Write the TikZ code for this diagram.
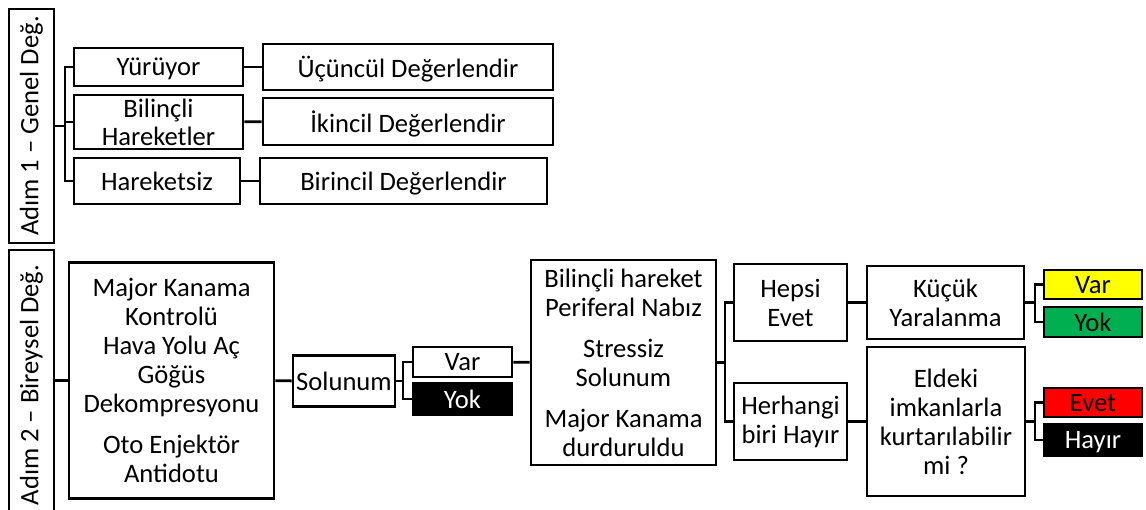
\documentclass[tikz,border=0pt]{standalone}
\usepackage{fontspec}
\setmainfont{Carlito}
\definecolor{kYellow}{HTML}{FFFF00}
\definecolor{kGreen}{HTML}{00B050}
\definecolor{kRed}{HTML}{FF0000}
\begin{document}
\begin{tikzpicture}[x=0.5pt, y=-0.5pt,
        font=\fontsize{13.3}{14.5}\selectfont,
        box/.style={draw, line width=1.4pt, inner sep=0pt, align=center},
        onebox/.style={box, text depth=0pt},
        link/.style={line width=1.4pt}]
        \useasboundingbox (0,0) rectangle (1146,509);

        % Adim 1
        \node[box, rotate=90, minimum width=117pt, minimum height=22.5pt] (adim1) at (31.5,126) {Adım 1 – Genel Değ.};
        \node[onebox, minimum width=84.5pt, minimum height=19pt] (yur) at (158.5,67) {Yürüyor};
        \node[box, minimum width=84.5pt, minimum height=27pt] (bilh) at (158.5,122) {Bilinçli\\[-0.5pt]Hareketler};
        \node[onebox, minimum width=83pt, minimum height=23pt] (hrk) at (157,181) {Hareketsiz};
        \node[onebox, minimum width=145pt, minimum height=23pt] (ucu) at (408,67) {Üçüncül Değerlendir};
        \node[onebox, minimum width=145pt, minimum height=23.5pt] (iki) at (408,121.5) {İkincil Değerlendir};
        \node[onebox, minimum width=143.5pt, minimum height=23pt] (bir) at (403.5,181) {Birincil Değerlendir};
        \coordinate (br1) at (65,126);

        \draw[link] (adim1.south) -- (br1);
        \draw[link] (yur.west) -| (br1) |- (hrk.west);
        \draw[link] (bilh.west) -- (bilh.west -| br1);
        \draw[link] (yur) -- (ucu);
        \draw[link] (bilh) -- (iki);
        \draw[link] (hrk) -- (bir);

        % Adim 2
        \node[box, rotate=90, minimum width=135pt, minimum height=22.5pt] (adim2) at (31.5,385) {Adım 2 – Bireysel Değ.};
        \node[box, minimum width=102.5pt, minimum height=118pt] (major) at (171.5,380.5) {Major Kanama\\Kontrolü\\Hava Yolu Aç\\Göğüs\\Dekompresyonu\\[6pt]Oto Enjektör\\Antidotu};
        \node[onebox, minimum width=51pt, minimum height=25.5pt] (sol) at (344,381) {Solunum};
        \node[onebox, minimum width=49.5pt, minimum height=15pt] (var1) at (462.5,362) {Var};
        \node[onebox, fill=black, text=white, minimum width=49.5pt, minimum height=16pt] (yok1) at (462.5,399) {Yok};
        \node[box, minimum width=92.5pt, minimum height=102.5pt] (bil2) at (623.5,362.5) {Bilinçli hareket\\Periferal Nabız\\[6pt]Stressiz\\Solunum\\[6pt]Major Kanama\\durduruldu};
        \node[box, minimum width=56.5pt, minimum height=38.5pt] (hep) at (790.5,302.5) {Hepsi\\Evet};
        \node[box, minimum width=56.5pt, minimum height=38.5pt] (her) at (790.5,421.5) {Herhangi\\biri Hayır};
        \node[box, minimum width=78.5pt, minimum height=36.5pt] (kuc) at (945.5,302.5) {Küçük\\Yaralanma};
        \node[box, minimum width=79pt, minimum height=74.5pt] (eld) at (946,421.5) {Eldeki\\imkanlarla\\kurtarılabilir\\mi ?};
        \node[onebox, fill=kYellow, minimum width=49pt, minimum height=14.5pt] (var2) at (1093,284.5) {Var};
        \node[onebox, fill=kGreen, minimum width=49pt, minimum height=15pt] (yok2) at (1093,322) {Yok};
        \node[onebox, fill=kRed, minimum width=49pt, minimum height=14.5pt] (evet) at (1093,402.5) {Evet};
        \node[onebox, fill=black, text=white, minimum width=49pt, minimum height=16pt] (hayir) at (1093,440) {Hayır};
        \coordinate (br2) at (403,381);
        \coordinate (br3) at (725,362.5);
        \coordinate (br4) at (1035,302.5);
        \coordinate (br5) at (1035,421.5);

        \draw[link] (major.west -| adim2.south) -- (major.west);
        \draw[link] (major) -- (sol);
        \draw[link] (sol.east) -- (br2);
        \draw[link] (var1.west) -| (br2) |- (yok1.west);
        \draw[link] (var1) -- (bil2);
        \draw[link] (bil2.east) -- (br3);
        \draw[link] (hep.west) -| (br3) |- (her.west);
        \draw[link] (hep) -- (kuc);
        \draw[link] (her) -- (eld);
        \draw[link] (kuc.east) -- (br4);
        \draw[link] (var2.west) -| (br4) |- (yok2.west);
        \draw[link] (eld.east) -- (br5);
        \draw[link] (evet.west) -| (br5) |- (hayir.west);
    \end{tikzpicture}
\end{document}
